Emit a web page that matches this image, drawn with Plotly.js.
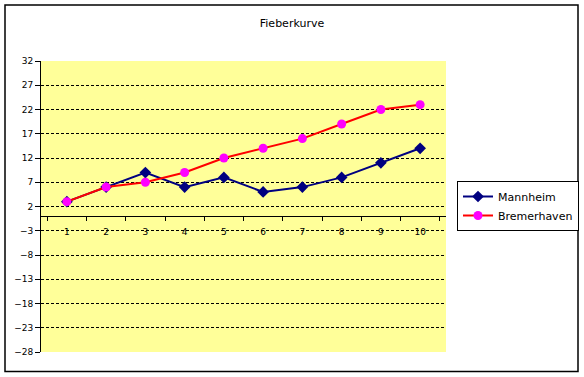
<!DOCTYPE html>
<html>
<head>
<meta charset="utf-8">
<script src="https://cdn.plot.ly/plotly-3.0.1.min.js"></script>
<style>html,body{margin:0;padding:0;background:#fff;}#chart{width:584px;height:377px;}</style>
</head>
<body>
<div id="chart"></div>
<script>
const categories = ['1','2','3','4','5','6','7','8','9','10'];
const mannheim = [3, 6, 9, 6, 8, 5, 6, 8, 11, 14];
const bremerhaven = [3, 6, 7, 9, 12, 14, 16, 19, 22, 23];
const seriesNames = ['Mannheim', 'Bremerhaven'];
const yMin = -28, yMax = 32;

const traces = [
  {x: categories, y: mannheim, name: seriesNames[0], type: 'scatter', mode: 'lines+markers',
   line: {color: '#000080', width: 2}, marker: {symbol: 'diamond', size: 9, color: '#000080'}},
  {x: categories, y: bremerhaven, name: seriesNames[1], type: 'scatter', mode: 'lines+markers',
   line: {color: '#FF0000', width: 2}, marker: {symbol: 'circle', size: 9, color: '#FF00FF'}}
];

const layout = {
  width: 584, height: 377,
  margin: {l: 41, r: 138, t: 61, b: 25, autoexpand: false},
  paper_bgcolor: '#ffffff',
  plot_bgcolor: '#FFFF99',
  font: {family: 'DejaVu Sans, sans-serif', size: 10, color: '#000'},
  title: {text: 'Fieberkurve', x: 0.5, xref: 'container', xanchor: 'center', y: 1 - 23/377, yref: 'container', yanchor: 'middle',
          font: {family: 'DejaVu Sans, sans-serif', size: 11, color: '#000'}},
  xaxis: {type: 'category', tickson: 'boundaries', showgrid: false, zeroline: false,
          showline: true, linecolor: '#000', linewidth: 1,
          ticks: 'outside', ticklen: 4, tickcolor: '#000', ticklabelstandoff: 7,
          anchor: 'free', position: (0 - yMin) / (yMax - yMin),
          tickfont: {family: 'DejaVu Sans, sans-serif', size: 9, color: '#000'}, fixedrange: true},
  yaxis: {range: [yMin, yMax], tick0: 2, dtick: 5, showgrid: true, gridcolor: '#000', griddash: '3px,2px', gridwidth: 1,
          zeroline: false, showline: true, linecolor: '#000', linewidth: 1,
          ticks: 'outside', ticklen: 5, tickcolor: '#000',
          tickfont: {family: 'DejaVu Sans, sans-serif', size: 9, color: '#000'}},
  showlegend: true,
  legend: {x: (457 - 41) / 405, xanchor: 'left', y: (352 - 206) / 291, yanchor: 'middle', bgcolor: '#fff', bordercolor: '#000', borderwidth: 1,
           font: {family: 'DejaVu Sans, sans-serif', size: 11, color: '#000'}, itemwidth: 30, tracegroupgap: 0},
  shapes: [
    {type: 'rect', xref: 'paper', yref: 'paper', x0: -36/405, x1: 1 + 132/405, y0: -19.5/291, y1: 1 + 56/291,
     line: {color: '#000', width: 1.5}, fillcolor: 'rgba(0,0,0,0)', layer: 'below'}
  ]
};

Plotly.newPlot('chart', traces, layout, {staticPlot: true});
</script>
</body>
</html>
